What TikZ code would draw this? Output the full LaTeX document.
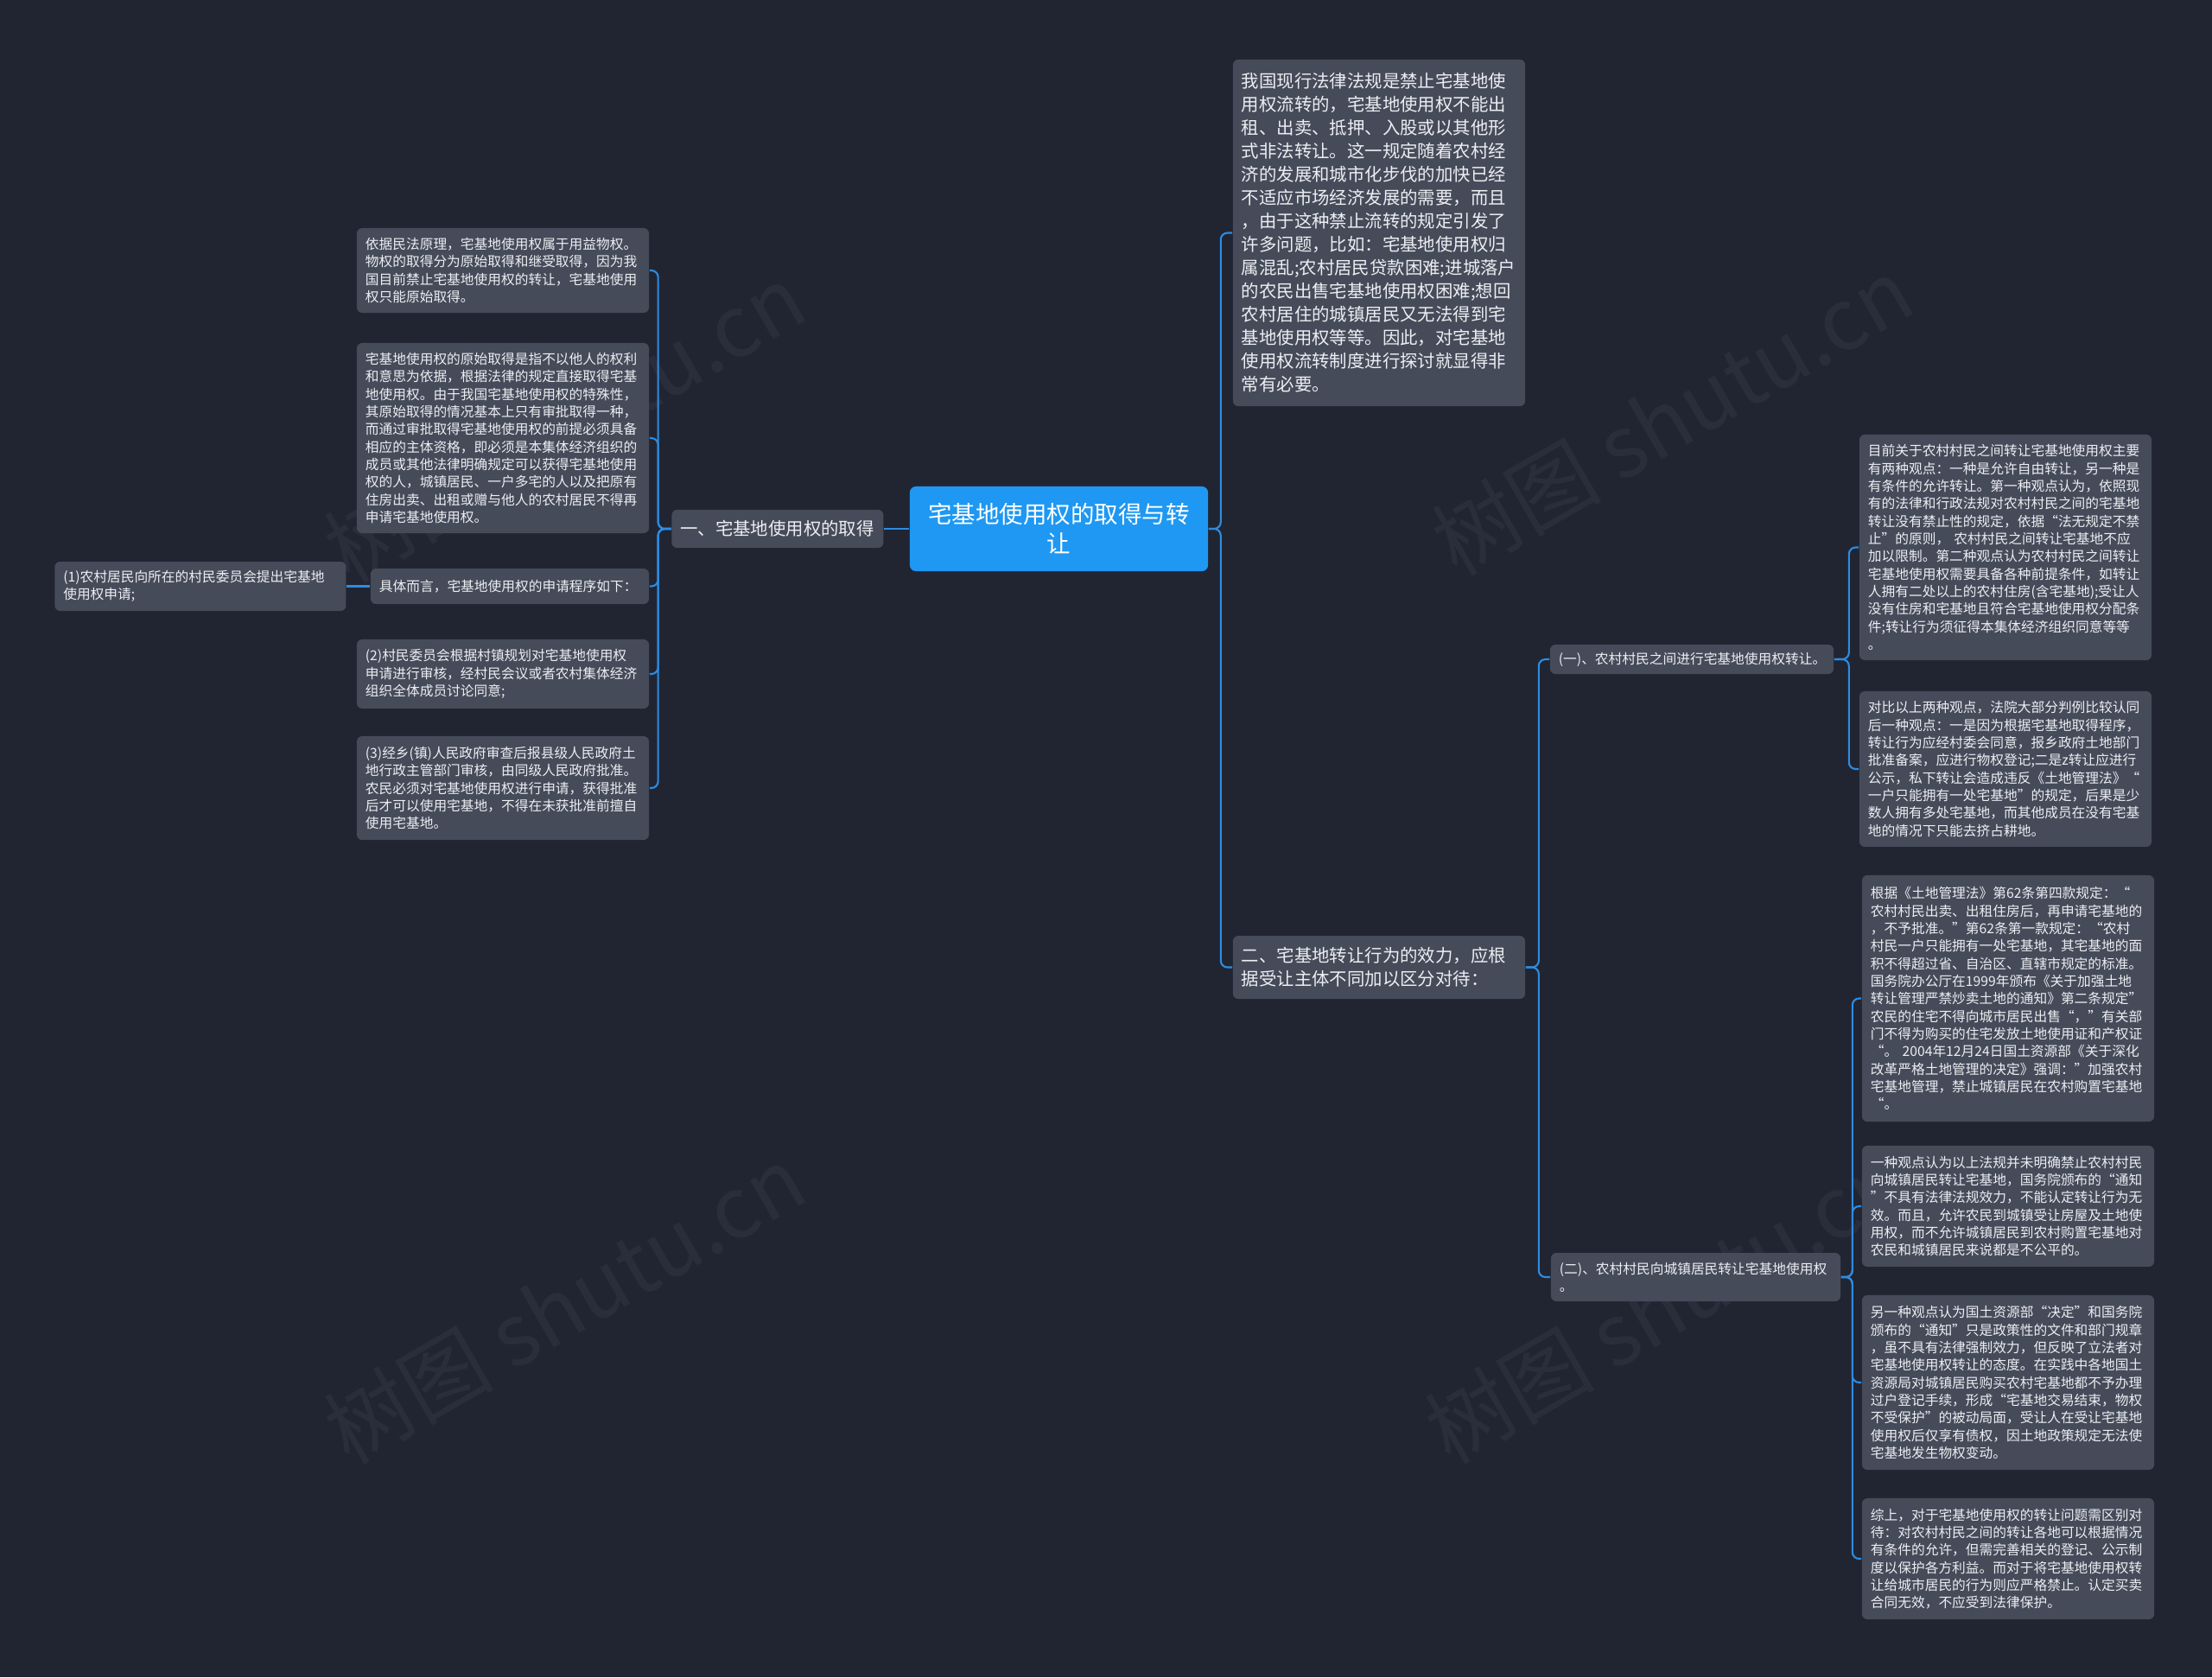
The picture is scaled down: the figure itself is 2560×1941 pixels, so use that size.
\documentclass[tikz,border=0pt]{standalone}
\usepackage{fontspec}
\newfontfamily\cjkfont{Noto Sans CJK SC}
\usepackage{tikz}
\usetikzlibrary{positioning}
\definecolor{bgdark}{RGB}{33,37,50}
\definecolor{boxgray}{RGB}{70,75,90}
\definecolor{rootblue}{RGB}{30,152,242}
\definecolor{linkblue}{RGB}{45,140,225}
\definecolor{txtwhite}{RGB}{236,238,242}
\tikzset{
    box/.style={
        fill=boxgray,
        rounded corners=1.8pt,
        text=txtwhite,
        inner xsep=0.1cm,
        inner ysep=0pt,
        align=left
    },
    small/.style={
        box,
        text width=3.18cm,
        font=\cjkfont\fontsize{4.47pt}{5.78pt}\selectfont
    },
    mid/.style={
        box,
        text width=3.18cm,
        font=\cjkfont\fontsize{5.8pt}{7.68pt}\selectfont
    },
    root/.style={
        fill=rootblue,
        rounded corners=2pt,
        text=white,
        align=center,
        inner sep=0pt,
        minimum width=3.45cm,
        minimum height=0.98cm,
        font=\cjkfont\fontsize{7.82pt}{9.67pt}\selectfont
    },
    link/.style={
        draw=linkblue,
        line width=0.6pt,
        rounded corners=2.2pt
    },
    wmark/.style={
        text=white,
        opacity=0.045,
        rotate=30,
        font=\cjkfont\fontsize{28pt}{28pt}\selectfont
    }
}

\begin{document}
\begin{tikzpicture}[x=0.01cm, y=-0.01cm]
  \fill[bgdark] (0,0) rectangle (2560,1941);
  \useasboundingbox (0,0) rectangle (2560,1941);

  % Watermarks
  \foreach \i/\x/\y in {1/653/490, 2/1935/482, 3/653/1510, 4/1927/1510} {
    \node[wmark] (wm\i) at (\x,\y) {树图 shutu.cn};
  }

  % Root and first level
  \node[root] (root) at (1225.5,612) {宅基地使用权的取得与转\\让};
  \node[mid, text width=2.25cm, minimum height=0.44cm, left=0.29cm of root] (one) {一、宅基地使用权的取得};
  \node[mid, minimum height=4.01cm] (tp) at (1596,269.5) {我国现行法律法规是禁止宅基地使\\用权流转的，宅基地使用权不能出\\租、出卖、抵押、入股或以其他形\\式非法转让。这一规定随着农村经\\济的发展和城市化步伐的加快已经\\不适应市场经济发展的需要，而且\\，由于这种禁止流转的规定引发了\\许多问题，比如：宅基地使用权归\\属混乱;农村居民贷款困难;进城落户\\的农民出售宅基地使用权困难;想回\\农村居住的城镇居民又无法得到宅\\基地使用权等等。因此，对宅基地\\使用权流转制度进行探讨就显得非\\常有必要。};
  \node[mid, minimum height=0.73cm] (two) at (1596,1119.5) {二、宅基地转让行为的效力，应根\\据受让主体不同加以区分对待：};

  % Left leaves
  \node[small, minimum height=0.98cm] (l1) at (582,313) {依据民法原理，宅基地使用权属于用益物权。\\物权的取得分为原始取得和继受取得，因为我\\国目前禁止宅基地使用权的转让，宅基地使用\\权只能原始取得。};
  \node[small, minimum height=2.2cm] (l2) at (582,507) {宅基地使用权的原始取得是指不以他人的权利\\和意思为依据，根据法律的规定直接取得宅基\\地使用权。由于我国宅基地使用权的特殊性，\\其原始取得的情况基本上只有审批取得一种，\\而通过审批取得宅基地使用权的前提必须具备\\相应的主体资格，即必须是本集体经济组织的\\成员或其他法律明确规定可以获得宅基地使用\\权的人，城镇居民、一户多宅的人以及把原有\\住房出卖、出租或赠与他人的农村居民不得再\\申请宅基地使用权。};
  \node[small, text width=3.02cm, minimum height=0.41cm] (l3) at (590,678.5) {具体而言，宅基地使用权的申请程序如下：};
  \node[small, text width=3.17cm, minimum height=0.57cm, left=0.27cm of l3] (p1) {(1)农村居民向所在的村民委员会提出宅基地\\使用权申请;};
  \node[small, minimum height=0.8cm] (l4) at (582,780) {(2)村民委员会根据村镇规划对宅基地使用权\\申请进行审核，经村民会议或者农村集体经济\\组织全体成员讨论同意;};
  \node[small, minimum height=1.2cm] (l5) at (582,912) {(3)经乡(镇)人民政府审查后报县级人民政府土\\地行政主管部门审核，由同级人民政府批准。\\农民必须对宅基地使用权进行申请，获得批准\\后才可以使用宅基地，不得在未获批准前擅自\\使用宅基地。};

  % Second level right
  \node[small, text width=3.08cm, minimum height=0.34cm] (s1) at (1958,763) {(一)、农村村民之间进行宅基地使用权转让。};
  \node[small, text width=3.15cm, minimum height=0.56cm] (s2) at (1962.5,1478) {(二)、农村村民向城镇居民转让宅基地使用权\\。};

  % Right leaves
  \node[small, minimum height=2.61cm] (r1) at (2321,633.5) {目前关于农村村民之间转让宅基地使用权主要\\有两种观点：一种是允许自由转让，另一种是\\有条件的允许转让。第一种观点认为，依照现\\有的法律和行政法规对农村村民之间的宅基地\\转让没有禁止性的规定，依据“法无规定不禁\\止”的原则，~农村村民之间转让宅基地不应\\加以限制。第二种观点认为农村村民之间转让\\宅基地使用权需要具备各种前提条件，如转让\\人拥有二处以上的农村住房(含宅基地);受让人\\没有住房和宅基地且符合宅基地使用权分配条\\件;转让行为须征得本集体经济组织同意等等\\。};
  \node[small, minimum height=1.8cm] (r2) at (2321,890) {对比以上两种观点，法院大部分判例比较认同\\后一种观点：一是因为根据宅基地取得程序，\\转让行为应经村委会同意，报乡政府土地部门\\批准备案，应进行物权登记;二是z转让应进行\\公示，私下转让会造成违反《土地管理法》“\\一户只能拥有一处宅基地”的规定，后果是少\\数人拥有多处宅基地，而其他成员在没有宅基\\地的情况下只能去挤占耕地。};
  \node[small, minimum height=2.85cm] (r3) at (2324,1155.5) {根据《土地管理法》第62条第四款规定：“\\农村村民出卖、出租住房后，再申请宅基地的\\，不予批准。”第62条第一款规定：“农村\\村民一户只能拥有一处宅基地，其宅基地的面\\积不得超过省、自治区、直辖市规定的标准。\\国务院办公厅在1999年颁布《关于加强土地\\转让管理严禁炒卖土地的通知》第二条规定”\\农民的住宅不得向城市居民出售“，”有关部\\门不得为购买的住宅发放土地使用证和产权证\\“。~2004年12月24日国土资源部《关于深化\\改革严格土地管理的决定》强调：”加强农村\\宅基地管理，禁止城镇居民在农村购置宅基地\\“。};
  \node[small, minimum height=1.4cm] (r4) at (2324,1396) {一种观点认为以上法规并未明确禁止农村村民\\向城镇居民转让宅基地，国务院颁布的“通知\\”不具有法律法规效力，不能认定转让行为无\\效。而且，允许农民到城镇受让房屋及土地使\\用权，而不允许城镇居民到农村购置宅基地对\\农民和城镇居民来说都是不公平的。};
  \node[small, minimum height=2.02cm] (r5) at (2324,1600) {另一种观点认为国土资源部“决定”和国务院\\颁布的“通知”只是政策性的文件和部门规章\\，虽不具有法律强制效力，但反映了立法者对\\宅基地使用权转让的态度。在实践中各地国土\\资源局对城镇居民购买农村宅基地都不予办理\\过户登记手续，形成“宅基地交易结束，物权\\不受保护”的被动局面，受让人在受让宅基地\\使用权后仅享有债权，因土地政策规定无法使\\宅基地发生物权变动。};
  \node[small, minimum height=1.4cm] (r6) at (2324,1804) {综上，对于宅基地使用权的转让问题需区别对\\待：对农村村民之间的转让各地可以根据情况\\有条件的允许，但需完善相关的登记、公示制\\度以保护各方利益。而对于将宅基地使用权转\\让给城市居民的行为则应严格禁止。认定买卖\\合同无效，不应受到法律保护。};

  % Connect root
  \draw[link] (root.west) -- (one.east);
  \foreach \k in {tp,two} {
    \draw[link] (root.east) -- ++(14,0) |- (\k.west);
  }

  % Connect left branch
  \foreach \k in {l1,l2,l3,l4,l5} {
    \draw[link] (one.west) -- ++(-15,0) |- (\k.east);
  }
  \draw[link] (l3.west) -- (p1.east);

  % Connect right branch
  \foreach \k in {s1,s2} {
    \draw[link] (two.east) -- ++(15,0) |- (\k.west);
  }
  \foreach \k in {r1,r2} {
    \draw[link] (s1.east) -- ++(17,0) |- (\k.west);
  }
  \foreach \k in {r3,r4,r5,r6} {
    \draw[link] (s2.east) -- ++(13,0) |- (\k.west);
  }
\end{tikzpicture}
\end{document}
